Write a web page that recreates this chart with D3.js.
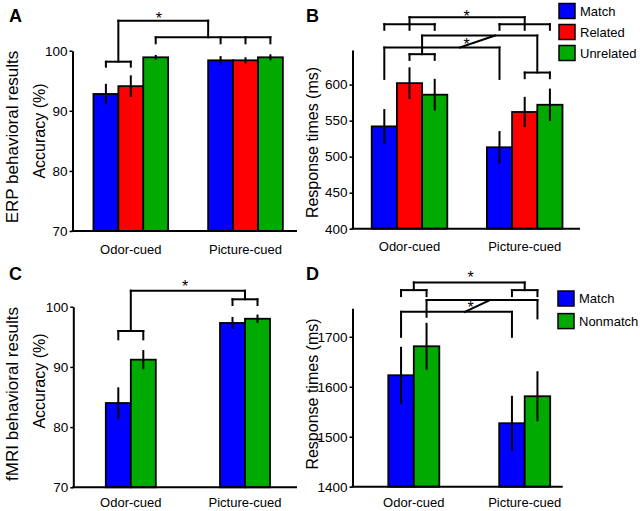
<!DOCTYPE html>
<html>
<head>
<meta charset="utf-8">
<script src="https://cdn.jsdelivr.net/npm/d3@7/dist/d3.min.js"></script>
<style>
  html, body { margin: 0; padding: 0; background: #fff; }
  svg { display: block; font-family: "Liberation Sans", Arial, Helvetica, sans-serif; }
</style>
</head>
<body>
<script>
// ---------- DATA ----------
const categories = ["Odor-cued", "Picture-cued"];
const seriesERP = ["Match", "Related", "Unrelated"];
const seriesFMRI = ["Match", "Nonmatch"];

// A: ERP accuracy (%)
const erpAccMatch = [92.8, 98.4];
const erpAccRelated = [94.1, 98.4];
const erpAccUnrelated = [98.9, 98.9];
const erpAccMatchErr = [1.7, 0.7];
const erpAccRelatedErr = [1.8, 0.5];
const erpAccUnrelatedErr = [0.4, 0.5];

// B: ERP response times (ms)
const erpRTMatch = [542, 513];
const erpRTRelated = [602, 562];
const erpRTUnrelated = [586, 572];
const erpRTMatchErr = [24, 22.5];
const erpRTRelatedErr = [22, 21];
const erpRTUnrelatedErr = [22, 22.5];

// C: fMRI accuracy (%)
const fmriAccMatch = [84.0, 97.3];
const fmriAccNonmatch = [91.2, 98.0];
const fmriAccMatchErr = [2.6, 1.0];
const fmriAccNonmatchErr = [1.6, 0.7];

// D: fMRI response times (ms)
const fmriRTMatch = [1623, 1527];
const fmriRTNonmatch = [1681, 1581];
const fmriRTMatchErr = [57, 55];
const fmriRTNonmatchErr = [47, 50];

// tick labels
const accTicks = [70, 80, 90, 100];
const erpRTTicks = [400, 450, 500, 550, 600];
const fmriRTTicks = [1400, 1500, 1600, 1700];

// significance brackets: [group1, barOffset1, value1, group2, barOffset2, value2]
const bracketsA = [
  [0,-1,98.17, 0,0,98.17], [0,-1,98.17, 0,-1,97.34], [0,0,98.17, 0,0,97.34],
  [0,-0.5,98.17, 0,-0.5,105], [0,-0.5,105, 1,-1.5,105], [1,-1.5,105, 1,-1.5,102.23],
  [0,1,102.23, 1,1,102.23], [0,1,102.23, 0,1,101.23], [1,-1,102.23, 1,-1,101.23],
  [1,0,102.23, 1,0,101.23], [1,1,102.23, 1,1,101.23]
];
const starsA = [[0, 1.13, 104.4]];

const bracketsB = [
  [0,0,693.6, 1,0,693.6], [0,0,693.6, 0,0,676], [1,0,693.6, 1,0,676],
  [0,-1,683.9, 0,1,683.9], [0,-1,683.9, 0,-1,676], [0,1,683.9, 0,1,676],
  [1,-1,683.9, 1,1,683.9], [1,-1,683.9, 1,-1,676], [1,1,683.9, 1,1,676],
  [0,0.5,668, 1,0.5,668], [0,0.5,668, 0,0.5,642.2],
  [0,0,642.2, 0,1,642.2], [0,0,642.2, 0,0,634.3], [0,1,642.2, 0,1,634.3],
  [1,0.5,668, 1,0.5,616.7],
  [1,0,616.7, 1,1,616.7], [1,0,616.7, 1,0,608.9], [1,1,616.7, 1,1,608.9],
  [0,-1,651.4, 1,-1,651.4], [0,-1,651.4, 0,-1,607.9], [1,-1,651.4, 1,-1,607.9],
  [0,2.0,651.4, 0,3.39,668]
];
const starsB = [[0, 2.27, 687.2], [0, 2.27, 648.3]];

const bracketsC = [
  [0,-0.5,95.96, 0,0.5,95.96], [0,-0.5,95.96, 0,-0.5,94.58], [0,0.5,95.96, 0,0.5,94.58],
  [0,0,95.96, 0,0,102.66], [0,0,102.66, 1,0,102.66], [1,0,102.66, 1,0,101.23],
  [1,-0.5,101.23, 1,0.5,101.23], [1,-0.5,101.23, 1,-0.5,100.28], [1,0.5,101.23, 1,0.5,100.28]
];
const starsC = [[0, 2.17, 102.46]];

const bracketsD = [
  [0,0,1808.8, 1,0,1808.8], [0,0,1808.8, 0,0,1793.4], [1,0,1808.8, 1,0,1793.4],
  [0,-0.5,1793.4, 0,0.5,1793.4], [0,-0.5,1793.4, 0,-0.5,1781.4], [0,0.5,1793.4, 0,0.5,1781.4],
  [1,-0.5,1793.4, 1,0.5,1793.4], [1,-0.5,1793.4, 1,-0.5,1781.4], [1,0.5,1793.4, 1,0.5,1781.4],
  [0,0.5,1773.4, 1,0.5,1773.4], [0,0.5,1773.4, 0,0.5,1740], [1,0.5,1773.4, 1,0.5,1736.8],
  [0,-0.5,1750, 1,-0.5,1750], [0,-0.5,1750, 0,-0.5,1700], [1,-0.5,1750, 1,-0.5,1700],
  [0,2.0,1750, 0,2.99,1773.4]
];
const starsD = [[0, 2.23, 1807], [0, 2.23, 1748.4]];

const colorMap = { "Match": "#0000ff", "Related": "#ff0000", "Unrelated": "#00aa00", "Nonmatch": "#00aa00" };

// ---------- DRAW ----------
const svg = d3.select("body").append("svg").attr("width", 640).attr("height", 511);

function panel(cfg) {
  const g = svg.append("g");
  const y = d3.scaleLinear().domain(cfg.yDomain).range([cfg.bottom, cfg.top]);
  const xg = d3.scalePoint().domain(categories).range(cfg.centers);
  const n = cfg.series.length;
  const xs = d3.scaleBand().domain(cfg.series).range([-cfg.barW * n / 2, cfg.barW * n / 2]);
  const px = (gi, k) => xg(categories[gi]) + k * cfg.barW;

  // bars
  cfg.series.forEach((s, si) => {
    g.selectAll(null).data(cfg.values[si]).enter().append("rect")
      .attr("x", (d, i) => xg(categories[i]) + xs(s))
      .attr("width", xs.bandwidth())
      .attr("y", d => y(d))
      .attr("height", d => y(cfg.yDomain[0]) - y(d))
      .attr("fill", colorMap[s])
      .attr("stroke", "#000").attr("stroke-width", 1.8);
  });
  // error bars
  cfg.series.forEach((s, si) => {
    g.selectAll(null).data(cfg.values[si]).enter().append("line")
      .attr("x1", (d, i) => xg(categories[i]) + xs(s) + xs.bandwidth() / 2)
      .attr("x2", (d, i) => xg(categories[i]) + xs(s) + xs.bandwidth() / 2)
      .attr("y1", (d, i) => y(d - cfg.errors[si][i]))
      .attr("y2", (d, i) => y(d + cfg.errors[si][i]))
      .attr("stroke", "#000").attr("stroke-width", 2);
  });

  // y axis
  const ax = g.append("g").attr("transform", `translate(${cfg.axisX},0)`)
    .call(d3.axisLeft(y).tickValues(cfg.ticks).tickSize(3).tickPadding(2).tickSizeOuter(0).tickFormat(d3.format("d")));
  ax.select(".domain").attr("stroke", "#000").attr("stroke-width", 2);
  ax.selectAll(".tick line").attr("stroke", "#000").attr("stroke-width", 1.5);
  ax.selectAll(".tick text").attr("font-size", 13.5).attr("fill", "#000")
    .style("font-family", '"Liberation Sans", Arial, sans-serif');

  // x axis baseline
  g.append("line").attr("x1", cfg.axisX - 1).attr("x2", cfg.axisEnd)
    .attr("y1", y(cfg.yDomain[0])).attr("y2", y(cfg.yDomain[0]))
    .attr("stroke", "#000").attr("stroke-width", 2);

  // category labels
  g.selectAll(null).data(categories).enter().append("text")
    .attr("x", d => xg(d)).attr("y", y(cfg.yDomain[0]) + cfg.catOffset)
    .attr("text-anchor", "middle").attr("font-size", 13).text(d => d);

  // brackets
  g.selectAll(null).data(cfg.brackets).enter().append("line")
    .attr("x1", d => px(d[0], d[1])).attr("y1", d => y(d[2]))
    .attr("x2", d => px(d[3], d[4])).attr("y2", d => y(d[5]))
    .attr("stroke", "#000").attr("stroke-width", 2).attr("stroke-linecap", "square");
  g.selectAll(null).data(cfg.stars).enter().append("text")
    .attr("x", d => px(d[0], d[1])).attr("y", d => y(d[2]))
    .attr("text-anchor", "middle").attr("font-size", 16).text("*");

  // axis title
  g.append("text").attr("transform", `translate(${cfg.titleX},${cfg.titleY}) rotate(-90)`)
    .attr("text-anchor", "middle").attr("font-size", 16).text(cfg.yTitle);
  if (cfg.outerTitle) {
    g.append("text").attr("transform", `translate(${cfg.outerX},${cfg.outerY}) rotate(-90)`)
      .attr("text-anchor", "middle").attr("font-size", 17).text(cfg.outerTitle);
  }
  // panel letter
  g.append("text").attr("x", cfg.letterX).attr("y", cfg.letterY)
    .attr("font-size", 18).attr("font-weight", "bold").text(cfg.letter);

  // legend
  if (cfg.legend) {
    cfg.series.forEach((s, si) => {
      g.append("rect").attr("x", cfg.legend.x).attr("y", cfg.legend.y + si * cfg.legend.step)
        .attr("width", 16).attr("height", 15).attr("fill", colorMap[s])
        .attr("stroke", "#000").attr("stroke-width", 1.5);
      g.append("text").attr("x", cfg.legend.x + 21).attr("y", cfg.legend.y + si * cfg.legend.step + 12)
        .attr("font-size", 13).text(s);
    });
  }
}

panel({
  series: seriesERP,
  values: [erpAccMatch, erpAccRelated, erpAccUnrelated],
  errors: [erpAccMatchErr, erpAccRelatedErr, erpAccUnrelatedErr],
  yDomain: [70, 100], bottom: 231, top: 50.7, ticks: accTicks,
  centers: [130.8, 245.5], barW: 24.9, axisX: 72.5, axisEnd: 297, catOffset: 22.5,
  brackets: bracketsA, stars: starsA,
  yTitle: "Accuracy (%)", titleX: 45, titleY: 131,
  outerTitle: "ERP behavioral results", outerX: 18, outerY: 137,
  letter: "A", letterX: 9, letterY: 22
});

panel({
  series: seriesERP,
  values: [erpRTMatch, erpRTRelated, erpRTUnrelated],
  errors: [erpRTMatchErr, erpRTRelatedErr, erpRTUnrelatedErr],
  yDomain: [400, 648], bottom: 228.7, top: 50, ticks: erpRTTicks,
  centers: [409.5, 524.7], barW: 25.2, axisX: 352.5, axisEnd: 580, catOffset: 22.5,
  brackets: bracketsB, stars: starsB,
  yTitle: "Response times (ms)", titleX: 318, titleY: 142.5,
  letter: "B", letterX: 306, letterY: 22,
  legend: { x: 559, y: 3.5, step: 21 }
});

panel({
  series: seriesFMRI,
  values: [fmriAccMatch, fmriAccNonmatch],
  errors: [fmriAccMatchErr, fmriAccNonmatchErr],
  yDomain: [70, 100], bottom: 487.3, top: 306.7, ticks: accTicks,
  centers: [130.8, 245], barW: 25, axisX: 73.3, axisEnd: 297, catOffset: 19.5,
  brackets: bracketsC, stars: starsC,
  yTitle: "Accuracy (%)", titleX: 45, titleY: 381,
  outerTitle: "fMRI behavioral results", outerX: 18, outerY: 394,
  letter: "C", letterX: 9, letterY: 280
});

panel({
  series: seriesFMRI,
  values: [fmriRTMatch, fmriRTNonmatch],
  errors: [fmriRTMatchErr, fmriRTNonmatchErr],
  yDomain: [1400, 1757], bottom: 486.7, top: 308.3, ticks: fmriRTTicks,
  centers: [413.8, 524.7], barW: 25.5, axisX: 352.5, axisEnd: 562.7, catOffset: 20,
  brackets: bracketsD, stars: starsD,
  yTitle: "Response times (ms)", titleX: 318, titleY: 394,
  letter: "D", letterX: 306, letterY: 280,
  legend: { x: 558, y: 291, step: 22.6 }
});
</script>
</body>
</html>
